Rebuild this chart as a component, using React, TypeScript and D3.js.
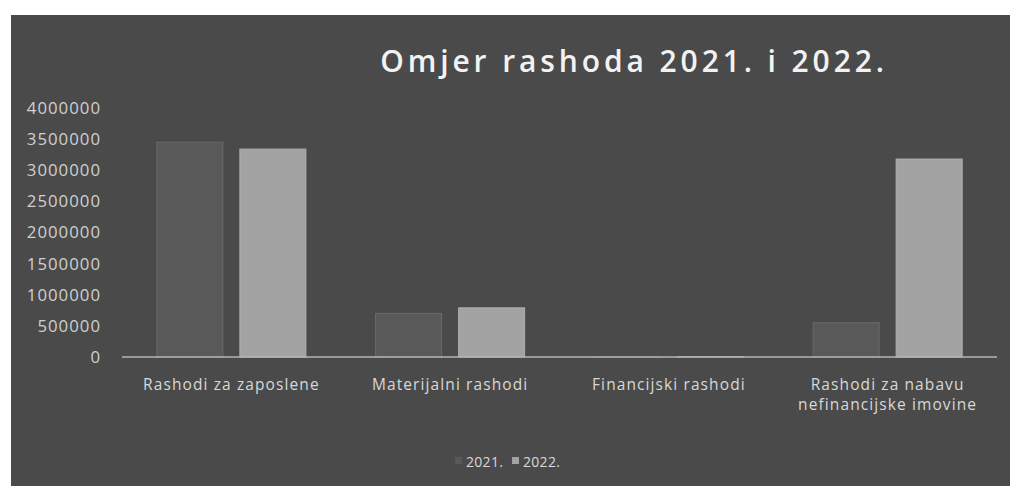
import React from "react";
import * as d3 from "d3";

const categories = [
  ["Rashodi za zaposlene"],
  ["Materijalni rashodi"],
  ["Financijski rashodi"],
  ["Rashodi za nabavu", "nefinancijske imovine"],
];
const seriesNames = ["2021.", "2022."];
const values2021 = [3450000, 700000, 3000, 550000];
const values2022 = [3340000, 790000, 4000, 3180000];
const yTicks = [0, 500000, 1000000, 1500000, 2000000, 2500000, 3000000, 3500000, 4000000];
const title = "Omjer rashoda 2021. i 2022.";

const W = 1010;
const H = 486;
const plot = { left: 122, right: 997, top: 108, bottom: 357 };
const colors = ["#595959", "#a3a3a3"];
const font = "'Open Sans', 'DejaVu Sans', sans-serif";

export default function App() {
  const keys = categories.map((c) => c.join(" "));
  const x0 = d3.scaleBand<string>().domain(keys).range([plot.left, plot.right]).padding(0);
  const x1 = d3
    .scaleBand<string>()
    .domain(seriesNames)
    .range([0, x0.bandwidth()])
    .paddingInner(0.205)
    .paddingOuter(0.42);
  const y = d3.scaleLinear().domain([0, 4000000]).range([plot.bottom, plot.top]);
  const series = [values2021, values2022];

  return (
    <svg
      width={W}
      height={H}
      style={{ position: "absolute", left: 0, top: 0, display: "block" }}
      fontFamily={font}
    >
      <rect x={0} y={0} width={W} height={H} fill="#ffffff" />
      <rect x={11} y={15} width={W - 11} height={H - 15} fill="#4a4a4a" />
      <text
        x={634}
        y={72}
        textAnchor="middle"
        fill="#f2f2f2"
        fontSize={30}
        fontWeight={600}
        letterSpacing={3.9}
      >
        {title}
      </text>
      {yTicks.map((t) => (
        <text
          key={t}
          x={101}
          y={y(t)}
          dy="0.35em"
          textAnchor="end"
          fill="#d0d0d0"
          fontSize={16.8}
          letterSpacing={1}
        >
          {t}
        </text>
      ))}
      {keys.map((k, i) =>
        series.map((vals, s) => {
          const bx = (x0(k) as number) + (x1(seriesNames[s]) as number);
          const by = y(vals[i]);
          return (
            <rect
              key={k + s}
              x={bx}
              y={by}
              width={x1.bandwidth()}
              height={plot.bottom - by}
              fill={colors[s]}
              stroke={s === 0 ? "#6a6a6a" : "#b0b0b0"}
              strokeWidth={1}
            />
          );
        })
      )}
      <line x1={plot.left} x2={plot.right} y1={plot.bottom} y2={plot.bottom} stroke="#b5b5b5" strokeWidth={1.5} />
      {categories.map((lines, i) => {
        const cx = (x0(keys[i]) as number) + x0.bandwidth() / 2;
        return (
          <text key={i} x={cx} y={390} textAnchor="middle" fill="#d8d8d8" fontSize={15.5} letterSpacing={1.1}>
            {lines.map((l, j) => (
              <tspan key={j} x={cx} dy={j === 0 ? 0 : 20}>
                {l}
              </tspan>
            ))}
          </text>
        );
      })}
      <g fontSize={14} fill="#d8d8d8" letterSpacing={0.3}>
        <rect x={455} y={457} width={7} height={7} fill={colors[0]} />
        <text x={466} y={467}>{seriesNames[0]}</text>
        <rect x={512} y={457} width={7} height={7} fill={colors[1]} />
        <text x={523} y={467}>{seriesNames[1]}</text>
      </g>
    </svg>
  );
}
